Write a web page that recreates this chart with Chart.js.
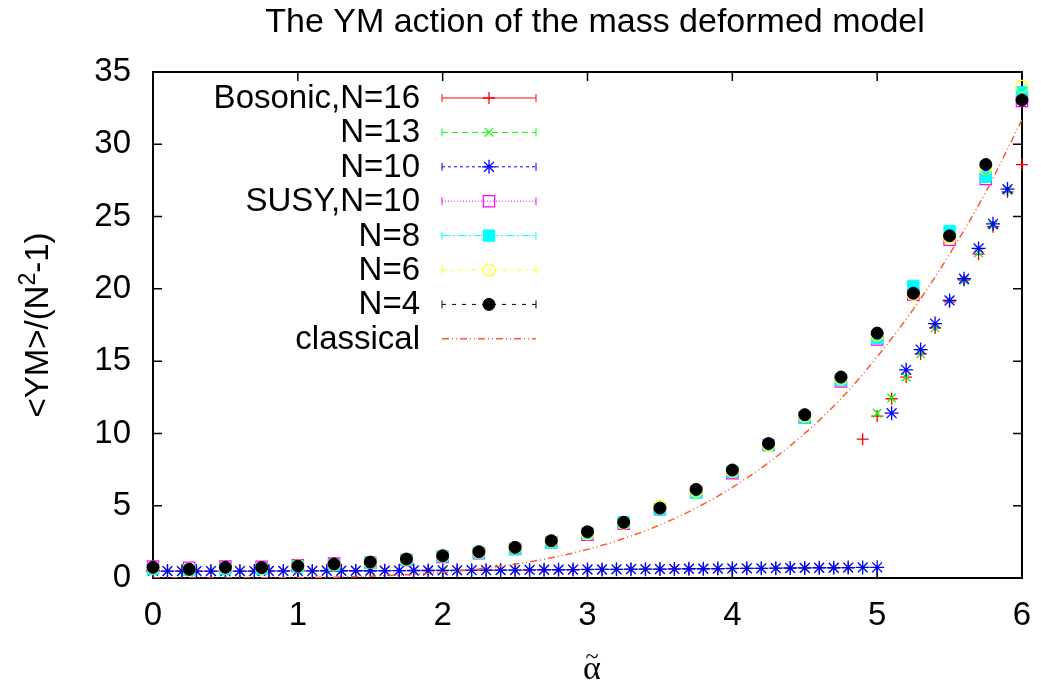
<!DOCTYPE html>
<html>
<head>
<meta charset="utf-8">
<script src="https://cdn.jsdelivr.net/npm/chart.js@4.4.1/dist/chart.umd.min.js"></script>
<style>
  html, body { margin: 0; padding: 0; background: #fff; }
  canvas { display: block; }
</style>
</head>
<body>
<canvas id="myChart" width="1041" height="689" style="width:1041px;height:689px"></canvas>
<script>
// fine grid (step 0.1) used by the bosonic runs
const alphaFine = [
  0.0, 0.1, 0.2, 0.3, 0.4, 0.5, 0.6, 0.7, 0.8, 0.9,
  1.0, 1.1, 1.2, 1.3, 1.4, 1.5, 1.6, 1.7, 1.8, 1.9,
  2.0, 2.1, 2.2, 2.3, 2.4, 2.5, 2.6, 2.7, 2.8, 2.9,
  3.0, 3.1, 3.2, 3.3, 3.4, 3.5, 3.6, 3.7, 3.8, 3.9,
  4.0, 4.1, 4.2, 4.3, 4.4, 4.5, 4.6, 4.7, 4.8, 4.9,
  5.0, 5.1, 5.2, 5.3, 5.4, 5.5, 5.6, 5.7, 5.8, 5.9, 6.0
];
// coarse grid (step 0.25) used by the other runs
const alphaCoarse = [
  0, 0.25, 0.5, 0.75, 1, 1.25, 1.5, 1.75, 2, 2.25, 2.5, 2.75, 3,
  3.25, 3.5, 3.75, 4, 4.25, 4.5, 4.75, 5, 5.25, 5.5, 5.75, 6
];

const bosonicN16 = [
  0.48, 0.47, 0.47, 0.47, 0.47, 0.47, 0.47, 0.48, 0.48, 0.48,
  0.48, 0.49, 0.49, 0.49, 0.50, 0.50, 0.50, 0.51, 0.51, 0.52,
  0.52, 0.53, 0.53, 0.54, 0.54, 0.55, 0.55, 0.56, 0.57, 0.57,
  0.58, 0.59, 0.59, 0.60, 0.61, 0.61, 0.62, 0.63, 0.63, 0.64,
  0.65, 0.66, 0.66, 0.67, 0.68, 0.69, 0.70, 0.70, 0.71, 9.6,
  11.2, 12.4, 13.9, 15.5, 17.3, 19.1, 20.6, 22.4, 24.3, 26.7, 28.6
];
const bosonicN13 = [
  0.49, 0.48, 0.47, 0.48, 0.48, 0.47, 0.48, 0.48, 0.48, 0.49,
  0.49, 0.49, 0.49, 0.50, 0.50, 0.50, 0.51, 0.51, 0.51, 0.52,
  0.52, 0.53, 0.53, 0.54, 0.54, 0.55, 0.56, 0.56, 0.57, 0.58,
  0.58, 0.59, 0.60, 0.60, 0.61, 0.62, 0.62, 0.63, 0.64, 0.65,
  0.65, 0.66, 0.67, 0.68, 0.68, 0.69, 0.70, 0.71, 0.72, 0.72,
  11.4, 12.45, 13.9, 15.5, 17.3, 19.2, 20.6, 22.5, 24.4, 26.8, null
];
const bosonicN10 = [
  0.50, 0.48, 0.48, 0.48, 0.48, 0.48, 0.48, 0.48, 0.49, 0.49,
  0.49, 0.49, 0.50, 0.50, 0.50, 0.50, 0.51, 0.51, 0.52, 0.52,
  0.53, 0.53, 0.54, 0.54, 0.55, 0.55, 0.56, 0.57, 0.57, 0.58,
  0.59, 0.59, 0.60, 0.61, 0.61, 0.62, 0.63, 0.64, 0.64, 0.65,
  0.66, 0.67, 0.67, 0.68, 0.69, 0.70, 0.71, 0.71, 0.72, 0.73,
  0.74, 11.4, 14.4, 15.8, 17.6, 19.2, 20.7, 22.8, 24.5, 26.9, null
];
const susyN10 = [
  0.80, 0.70, 0.80, 0.78, 0.88, 1.00, 1.05, 1.25, 1.45, 1.72, 2.00, 2.45, 3.00,
  3.75, 4.75, 5.95, 7.25, 9.20, 11.1, 13.6, 16.5, 19.6, 23.4, 27.6, 33.0
];
const n8 = [
  0.62, 0.55, 0.65, 0.65, 0.80, 0.90, 1.05, 1.25, 1.50, 1.75, 2.00, 2.45, 3.10,
  3.85, 4.75, 5.90, 7.35, 9.20, 11.1, 13.7, 16.6, 20.2, 24.0, 27.75, 33.6
];
const n6 = [
  0.70, 0.60, 0.72, 0.70, 0.85, 0.95, 1.08, 1.28, 1.52, 1.80, 2.10, 2.55, 3.05,
  3.80, 4.95, 6.00, 7.40, 9.20, 11.2, 13.8, 16.8, 19.6, 23.5, 28.3, 34.0
];
const n4 = [
  0.74, 0.60, 0.74, 0.72, 0.83, 0.97, 1.10, 1.31, 1.54, 1.82, 2.12, 2.58, 3.20,
  3.85, 4.84, 6.13, 7.47, 9.30, 11.3, 13.9, 16.94, 19.7, 23.67, 28.6, 33.06
];
const classical = [
  0, 0, 0, 0.01, 0.02, 0.06, 0.12, 0.23, 0.39, 0.63, 0.96, 1.40, 1.98,
  2.73, 3.67, 4.84, 6.27, 7.98, 10.0, 12.4, 15.3, 18.6, 22.4, 26.7, 31.7
];

const xTicks = [0, 1, 2, 3, 4, 5, 6];
const yTicks = [0, 5, 10, 15, 20, 25, 30, 35];

const FONT = "'Liberation Sans', Arial, sans-serif";

function toPoints(xs, ys) {
  const pts = [];
  xs.forEach((x, i) => { if (ys[i] !== null) pts.push({ x: x, y: ys[i] }); });
  return pts;
}

// label, values, x grid, colour, point style, radius, filled, dash
const series = [
  { label: 'Bosonic,N=16', xs: alphaFine, ys: bosonicN16, color: '#ff0000', style: 'cross', r: 6, bw: 1.3, fill: false, dash: [] },
  { label: 'N=13', xs: alphaFine, ys: bosonicN13, color: '#00ff00', style: 'crossRot', r: 6, bw: 1.3, fill: false, dash: [6, 4] },
  { label: 'N=10', xs: alphaFine, ys: bosonicN10, color: '#0000ff', style: 'star', r: 7, bw: 1.3, fill: false, dash: [3, 3] },
  { label: 'SUSY,N=10', xs: alphaCoarse, ys: susyN10, color: '#ff00ff', style: 'rect', r: 8, bw: 1.2, fill: false, dash: [1, 2] },
  { label: 'N=8', xs: alphaCoarse, ys: n8, color: '#00ffff', style: 'rect', r: 8, bw: 1, fill: true, dash: [8, 3, 2, 3] },
  { label: 'N=6', xs: alphaCoarse, ys: n6, color: '#ffff00', style: 'circle', r: 6, bw: 1.2, fill: false, dash: [5, 4, 2, 4] },
  { label: 'N=4', xs: alphaCoarse, ys: n4, color: '#000000', style: 'circle', r: 6, bw: 1, fill: true, dash: [4, 6] }
];
const classicalColor = '#ff5a28';
const classicalDash = [7, 3, 1, 3, 1, 3];

const datasets = series.map((s, i) => ({
  label: s.label,
  data: toPoints(s.xs, s.ys),
  showLine: false,
  pointStyle: s.style,
  pointRadius: s.r,
  pointHoverRadius: s.r,
  pointBorderWidth: s.bw,
  borderColor: s.color,
  backgroundColor: s.fill ? s.color : 'rgba(0,0,0,0)',
  clip: false,
  order: 10 - i
}));
datasets.push({
  label: 'classical',
  type: 'line',
  data: toPoints(alphaCoarse, classical),
  showLine: true,
  borderColor: classicalColor,
  borderWidth: 1.5,
  borderDash: classicalDash,
  pointRadius: 0,
  cubicInterpolationMode: 'monotone',
  fill: false,
  order: 0
});

function drawMarker(ctx, s, x, y) {
  ctx.save();
  ctx.setLineDash([]);
  ctx.strokeStyle = s.color;
  ctx.fillStyle = s.fill ? s.color : 'rgba(0,0,0,0)';
  ctx.lineWidth = s.bw;
  Chart.helpers.drawPoint(ctx, { pointStyle: s.style, radius: s.r, rotation: 0, borderWidth: s.bw }, x, y);
  ctx.restore();
}

const decor = {
  id: 'decor',
  beforeDatasetsDraw(chart) {
    const ctx = chart.ctx;
    const a = chart.chartArea;
    const xs = chart.scales.x, ys = chart.scales.y;
    ctx.save();
    ctx.strokeStyle = '#000';
    ctx.lineWidth = 2;
    ctx.strokeRect(a.left, a.top, a.right - a.left, a.bottom - a.top);
    ctx.lineWidth = 1.5;
    ctx.beginPath();
    yTicks.forEach(v => {
      const y = ys.getPixelForValue(v);
      ctx.moveTo(a.left, y); ctx.lineTo(a.left + 9, y);
      ctx.moveTo(a.right, y); ctx.lineTo(a.right - 9, y);
    });
    xTicks.forEach(v => {
      const x = xs.getPixelForValue(v);
      ctx.moveTo(x, a.bottom); ctx.lineTo(x, a.bottom - 9);
      ctx.moveTo(x, a.top); ctx.lineTo(x, a.top + 9);
    });
    ctx.stroke();
    ctx.restore();
  },
  afterDraw(chart) {
    const ctx = chart.ctx;
    ctx.save();
    ctx.fillStyle = '#000';

    // title
    ctx.font = '34px ' + FONT;
    ctx.textAlign = 'center';
    ctx.textBaseline = 'alphabetic';
    ctx.fillText('The YM action of the mass deformed model', 595, 32);

    // y axis title, rotated, with superscript 2
    ctx.save();
    ctx.translate(48, 325);
    ctx.rotate(-Math.PI / 2);
    ctx.textAlign = 'left';
    const p1 = '<YM>/(N', p2 = '2', p3 = '-1)';
    ctx.font = '33px ' + FONT;
    const w1 = ctx.measureText(p1).width, w3 = ctx.measureText(p3).width;
    ctx.font = '23px ' + FONT;
    const w2 = ctx.measureText(p2).width;
    let x0 = -(w1 + w2 + w3) / 2;
    ctx.font = '33px ' + FONT;
    ctx.fillText(p1, x0, 0);
    ctx.font = '23px ' + FONT;
    ctx.fillText(p2, x0 + w1, -13);
    ctx.font = '33px ' + FONT;
    ctx.fillText(p3, x0 + w1 + w2, 0);
    ctx.restore();

    // x axis title: alpha with a tilde
    ctx.textAlign = 'center';
    ctx.font = "34px 'Liberation Serif', 'DejaVu Serif', serif";
    ctx.fillText('\u03b1', 592, 679);
    ctx.font = "24px 'Liberation Serif', 'DejaVu Serif', serif";
    ctx.fillText('~', 592, 664);

    // legend
    const rowY0 = 98, rowH = 34.4, tx = 420, lx0 = 442, lx1 = 536;
    ctx.font = '33px ' + FONT;
    ctx.textAlign = 'right';
    ctx.textBaseline = 'middle';
    series.forEach((s, i) => {
      const y = rowY0 + i * rowH;
      ctx.fillStyle = '#000';
      ctx.fillText(s.label, tx, y + 1);
      ctx.strokeStyle = s.color;
      ctx.lineWidth = 1;
      ctx.setLineDash(s.dash);
      ctx.beginPath();
      ctx.moveTo(lx0, y); ctx.lineTo(lx1, y);
      ctx.stroke();
      ctx.setLineDash([]);
      ctx.beginPath();
      ctx.moveTo(lx0, y - 4); ctx.lineTo(lx0, y + 4);
      ctx.moveTo(lx1, y - 4); ctx.lineTo(lx1, y + 4);
      ctx.stroke();
      drawMarker(ctx, s, (lx0 + lx1) / 2, y);
    });
    const yc = rowY0 + series.length * rowH;
    ctx.fillStyle = '#000';
    ctx.fillText('classical', tx, yc + 1);
    ctx.strokeStyle = classicalColor;
    ctx.lineWidth = 1.5;
    ctx.setLineDash(classicalDash);
    ctx.beginPath();
    ctx.moveTo(lx0, yc); ctx.lineTo(lx1, yc);
    ctx.stroke();
    ctx.restore();
  }
};

new Chart(document.getElementById('myChart'), {
  type: 'scatter',
  data: { datasets: datasets },
  options: {
    responsive: false,
    animation: false,
    events: [],
    layout: { padding: { left: 0, right: 19, top: 72, bottom: 0 } },
    plugins: { legend: { display: false }, tooltip: { enabled: false }, title: { display: false } },
    scales: {
      x: {
        type: 'linear',
        min: 0, max: 6,
        afterFit: s => { s.height = 111; s.paddingRight = 0; s.paddingLeft = 0; },
        afterBuildTicks: s => { s.ticks = xTicks.map(v => ({ value: v })); },
        grid: { display: false, drawTicks: false },
        border: { display: false },
        ticks: { color: '#000', font: { family: FONT, size: 33 }, padding: 18, maxRotation: 0 }
      },
      y: {
        type: 'linear',
        min: 0, max: 35,
        afterFit: s => { s.width = 153; },
        afterBuildTicks: s => { s.ticks = yTicks.map(v => ({ value: v })); },
        grid: { display: false, drawTicks: false },
        border: { display: false },
        ticks: { color: '#000', font: { family: FONT, size: 33 }, padding: 22 }
      }
    }
  },
  plugins: [decor]
});
</script>
</body>
</html>
